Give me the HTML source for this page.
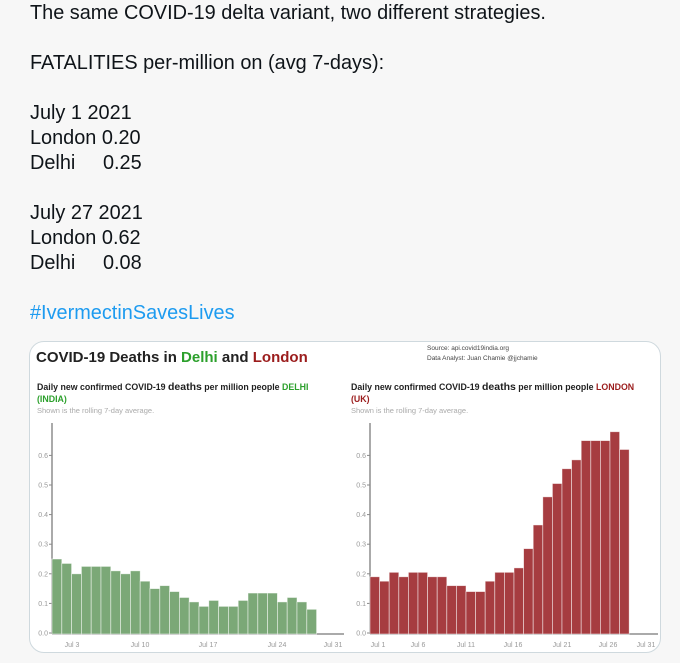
<!DOCTYPE html>
<html><head><meta charset="utf-8"><style>
html,body{margin:0;padding:0;background:#f7f7f7;}
body{width:680px;height:663px;overflow:hidden;position:relative;font-family:"Liberation Sans",sans-serif;}
.t{position:absolute;left:30px;font-size:19.9px;color:#0f1419;line-height:25px;white-space:pre;}
</style></head><body>
<div class="t" style="top:1px">The same COVID-19 delta variant, two different strategies.</div>
<div class="t" style="top:51px">FATALITIES per-million on (avg 7-days):</div>
<div class="t" style="top:101px">July 1 2021</div>
<div class="t" style="top:126px">London 0.20</div>
<div class="t" style="top:151px">Delhi     0.25</div>
<div class="t" style="top:201px">July 27 2021</div>
<div class="t" style="top:226px">London 0.62</div>
<div class="t" style="top:251px">Delhi     0.08</div>
<div class="t" style="top:301px;color:#1d9bf0">#IvermectinSavesLives</div>
<div style="position:absolute;left:29px;top:341px;width:630px;height:310px;border:1px solid #cfd9de;border-radius:15px;background:#fff;overflow:hidden"></div>
<svg id="s" width="680" height="663" style="position:absolute;left:0;top:0" font-family="Liberation Sans, sans-serif">
<text x="36" y="362" font-size="15" font-weight="bold" fill="#222">COVID-19 Deaths in <tspan fill="#2ca02c">Delhi</tspan> and <tspan fill="#9b1c1c">London</tspan></text>
<text x="427" y="350" font-size="6.5" fill="#444">Source: api.covid19india.org</text>
<text x="427" y="360" font-size="6.5" fill="#444">Data Analyst:  Juan Chamie @jjchamie</text>
<text x="37" y="390" font-size="8.8" font-weight="bold" fill="#222">Daily new confirmed COVID-19 <tspan font-size="10.5">deaths</tspan> per million people <tspan fill="#2ca02c">DELHI</tspan></text>
<text x="37" y="402" font-size="8.8" font-weight="bold" fill="#2ca02c">(INDIA)</text>
<text x="37" y="413" font-size="7.5" fill="#aaa">Shown is the rolling 7-day average.</text>
<text x="351" y="390" font-size="8.8" font-weight="bold" fill="#222">Daily new confirmed COVID-19 <tspan font-size="10.5">deaths</tspan> per million people <tspan fill="#9b1c1c">LONDON</tspan></text>
<text x="351" y="402" font-size="8.8" font-weight="bold" fill="#9b1c1c">(UK)</text>
<text x="351" y="413" font-size="7.5" fill="#aaa">Shown is the rolling 7-day average.</text>
<g id="g"></g>
</svg>
<script>
var g=document.getElementById('g'),h='';
function chart(ax,end,vals,w,col,labels){
 var z=633,k=296;
 h+='<line x1="'+ax+'" y1="423" x2="'+ax+'" y2="634" stroke="#555" stroke-width="1"/>';
 h+='<line x1="'+ax+'" y1="634" x2="'+end+'" y2="634" stroke="#555" stroke-width="1"/>';
 for(var i=0;i<=6;i++){var y=z-i*0.1*k;h+='<line x1="'+(ax-3)+'" y1="'+y+'" x2="'+ax+'" y2="'+y+'" stroke="#888"/><text x="'+(ax-4)+'" y="'+(y+2.5)+'" font-size="7" fill="#999" text-anchor="end">'+(i/10).toFixed(1)+'</text>';}
 vals.forEach(function(v,i){var x=ax+i*w,y=z-v*k;h+='<rect x="'+x+'" y="'+y+'" width="'+w+'" height="'+(634-y)+'" fill="'+col+'" stroke="#fff" stroke-opacity="0.6" stroke-width="0.8"/>';});
 labels.forEach(function(l){h+='<text x="'+l[1]+'" y="647" font-size="7" fill="#999" text-anchor="middle">'+l[0]+'</text>';});
}
chart(52,344,[0.25,0.235,0.20,0.225,0.225,0.225,0.21,0.20,0.21,0.175,0.15,0.16,0.14,0.12,0.105,0.09,0.11,0.09,0.09,0.11,0.135,0.135,0.135,0.105,0.12,0.105,0.08],9.8,'#7ba877',[['Jul 3',72],['Jul 10',140],['Jul 17',208],['Jul 24',277],['Jul 31',333]]);
chart(370,658,[0.19,0.175,0.205,0.19,0.205,0.205,0.19,0.19,0.16,0.16,0.14,0.14,0.175,0.205,0.205,0.22,0.285,0.365,0.46,0.505,0.555,0.585,0.65,0.65,0.65,0.68,0.62],9.6,'#a63c40',[['Jul 1',378],['Jul 6',418],['Jul 11',466],['Jul 16',513],['Jul 21',562],['Jul 26',608],['Jul 31',646]]);
g.innerHTML=h;
</script>
</body></html>
